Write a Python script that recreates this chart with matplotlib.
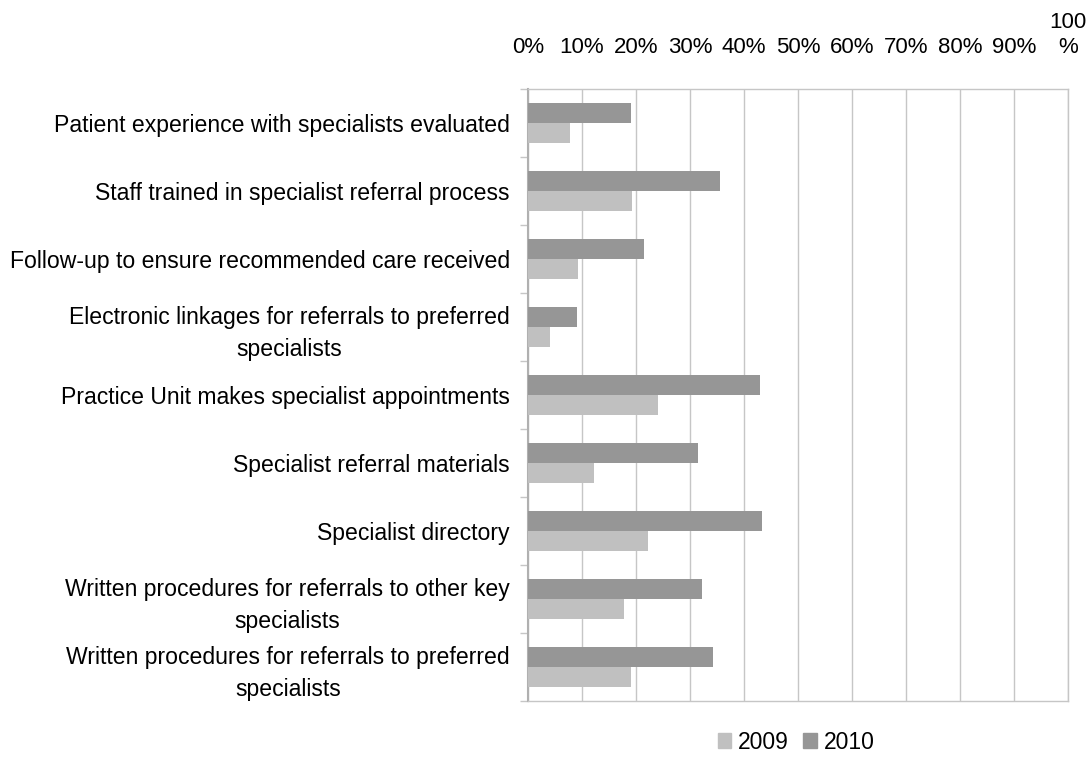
import matplotlib
matplotlib.use("Agg")
import matplotlib.pyplot as plt
from matplotlib.patches import Patch
import numpy as np

plt.rcParams['font.family'] = ['Liberation Sans', 'DejaVu Sans']

categories = [
    "Patient experience with specialists evaluated",
    "Staff trained in specialist referral process",
    "Follow-up to ensure recommended care received",
    "Electronic linkages for referrals to preferred\nspecialists",
    "Practice Unit makes specialist appointments",
    "Specialist referral materials",
    "Specialist directory",
    "Written procedures for referrals to other key\nspecialists",
    "Written procedures for referrals to preferred\nspecialists",
]
values_2009 = [7.7, 19.3, 9.3, 4.0, 24.0, 12.3, 22.3, 17.7, 19.0]
values_2010 = [19.0, 35.6, 21.4, 9.0, 43.0, 31.4, 43.4, 32.3, 34.3]
xticks = [0, 10, 20, 30, 40, 50, 60, 70, 80, 90, 100]
xticklabels = ["0%", "10%", "20%", "30%", "40%", "50%", "60%", "70%", "80%", "90%", "100\n%"]

c2009 = "#c0c0c0"
c2010 = "#969696"
grid_c = "#c6c6c6"

fig = plt.figure(figsize=(10.89, 7.58), dpi=100)
ax = fig.add_axes([0.4848, 0.0752, 0.4959, 0.8074])

y = np.arange(len(categories))
h = 0.29
ax.barh(y - h / 2, values_2010, height=h, color=c2010, zorder=3)
ax.barh(y + h / 2, values_2009, height=h, color=c2009, zorder=3)

ax.set_xlim(0, 100)
ax.set_ylim(len(categories) - 0.5, -0.5)
ax.xaxis.tick_top()
ax.set_xticks(xticks)
ax.set_xticklabels(xticklabels, fontsize=16, linespacing=1.3)
ax.tick_params(axis='x', length=0, pad=22)
ax.grid(axis='x', color=grid_c, linewidth=1, zorder=0)

ax.set_yticks(y)
ax.set_yticklabels(categories, fontsize=16.6, multialignment='center', linespacing=1.5)
ax.tick_params(axis='y', which='major', length=0, pad=13)
ax.set_yticks(np.arange(-0.5, len(categories), 1.0), minor=True)
ax.tick_params(axis='y', which='minor', length=6, color=grid_c, width=1)

for s in ['top', 'bottom', 'left', 'right']:
    ax.spines[s].set_color(grid_c)
    ax.spines[s].set_linewidth(1)
ax.spines['left'].set_color("#b0b0b0")
ax.spines['left'].set_linewidth(1.5)

handles = [Patch(color=c2009, label="2009"), Patch(color=c2010, label="2010")]
fig.legend(handles=handles, loc='center', bbox_to_anchor=(0.731, 0.021), ncol=2,
           frameon=False, fontsize=16.5, handlelength=0.6, handleheight=0.6,
           handletextpad=0.3, columnspacing=0.6)

fig.savefig("out.png", dpi=100)
